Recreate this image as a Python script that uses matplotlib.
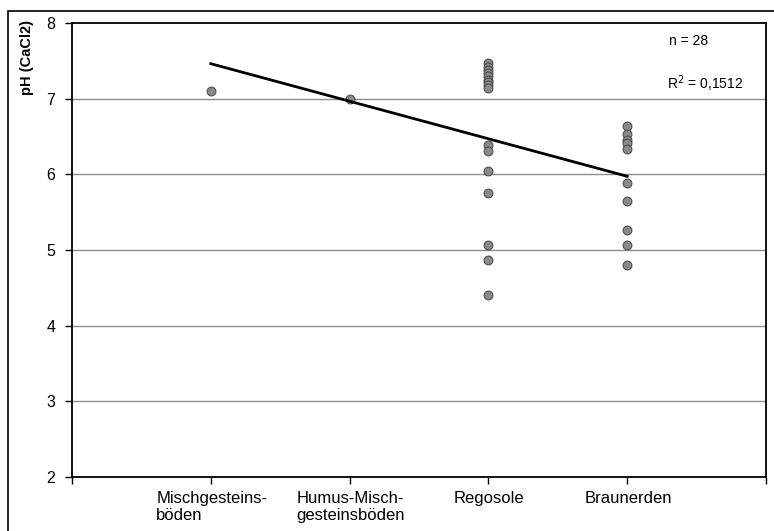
import numpy as np
import matplotlib.pyplot as plt
import matplotlib.transforms as mtransforms
from matplotlib.patches import Rectangle

plt.rcParams['font.family'] = ['Liberation Sans', 'DejaVu Sans']

# Bodentypen und gemessene pH-Werte
categories = ['Mischgesteins-\nböden', 'Humus-Misch-\ngesteinsböden', 'Regosole', 'Braunerden']
ph_misch = [7.10]
ph_humus = [7.00]
ph_regosole = [7.47, 7.42, 7.38, 7.34, 7.30, 7.25, 7.22, 7.18, 7.14,
               6.39, 6.31, 6.04, 5.75, 5.07, 4.87, 4.41]
ph_braunerden = [6.64, 6.53, 6.46, 6.41, 6.34, 5.89, 5.65, 5.26, 5.07, 4.80]
groups = [ph_misch, ph_humus, ph_regosole, ph_braunerden]

x_all = np.concatenate([np.full(len(g), i + 1) for i, g in enumerate(groups)])
y_all = np.concatenate(groups)

fig = plt.figure(figsize=(7.74, 5.31), dpi=100)
ax = fig.add_axes([72 / 774, 54 / 531, 694 / 774, 454 / 531])

# Rahmen um die ganze Grafik
fig.patches.append(Rectangle((8 / 774, -0.1), 1.2, (531 - 11) / 531 + 0.1,
                             transform=fig.transFigure, fill=False,
                             edgecolor='black', lw=1.2))

for yv in [3, 4, 5, 6, 7]:
    ax.axhline(yv, color='#8c8c8c', lw=1, zorder=1)

ax.scatter(x_all, y_all, s=40, color='#8a8a8a', edgecolor='#505050',
           linewidth=0.8, zorder=3)

# lineare Trendlinie
slope, intercept = np.polyfit(x_all, y_all, 1)
xs = np.array([1, 4])
ax.plot(xs, slope * xs + intercept, color='black', lw=2, zorder=4)

ax.set_xlim(0, 5)
ax.set_ylim(2, 8)
ax.set_xticks([0, 1, 2, 3, 4, 5])
ax.set_xticklabels([''] + categories + [''], fontsize=12, ha='center',
                   multialignment='left')
ax.set_yticks(range(2, 9))
ax.tick_params(axis='both', direction='out', length=5, width=1)
ax.tick_params(axis='x', pad=5)
ax.tick_params(axis='y', pad=7, labelsize=11.5)
for sp in ax.spines.values():
    sp.set_linewidth(1.3)

offset = mtransforms.ScaledTranslation(1 / 100, 0, fig.dpi_scale_trans)
for lab in ax.get_xticklabels():
    lab.set_transform(lab.get_transform() + offset)

fig.text(27 / 774, 1 - 20 / 531, 'pH (CaCl2)', rotation=90, ha='center', va='top',
         fontsize=10.5, fontweight='bold')

ax.text(0.860, 0.960, 'n = 28', transform=ax.transAxes, fontsize=10,
        va='center', ha='left')
ax.text(0.857, 0.867, 'R$^2$ = 0,1512', transform=ax.transAxes, fontsize=10,
        va='center', ha='left')

fig.savefig('out.png', dpi=100)
